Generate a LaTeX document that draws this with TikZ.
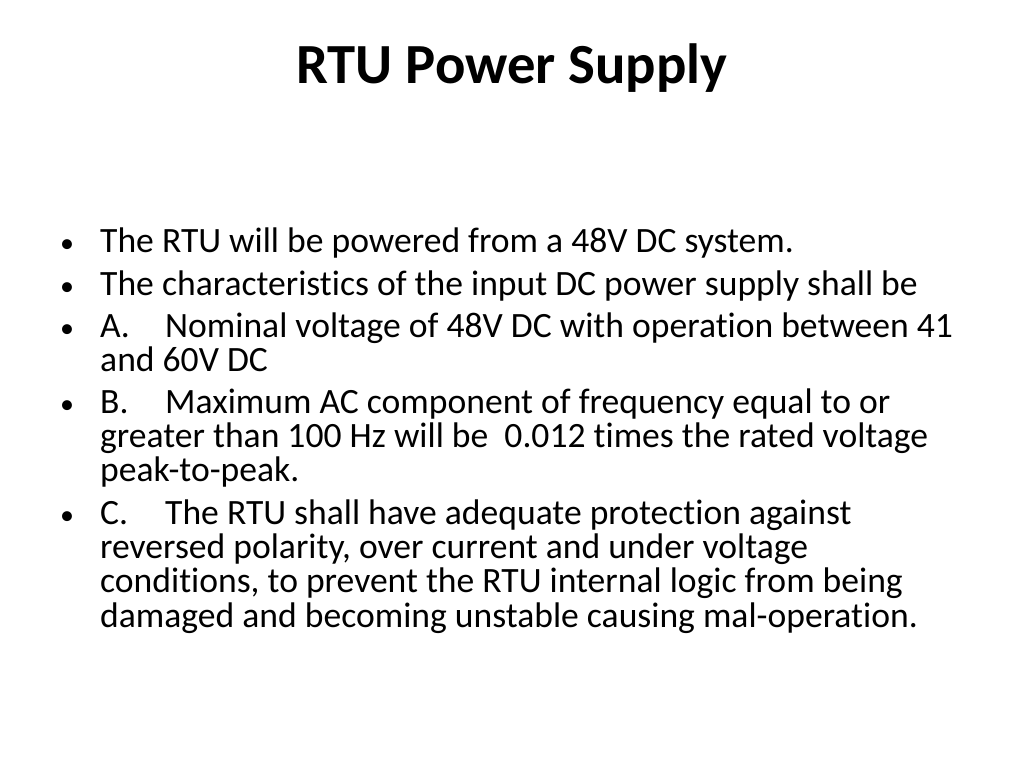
\documentclass[tikz,border=0pt]{standalone}
\usepackage{fontspec}
\setmainfont{Carlito}[Ligatures={NoCommon}]
\begin{document}
\begin{tikzpicture}[x=1pt,y=1pt,
  body/.style={anchor=base west,inner sep=0pt,font=\fontsize{35.6}{40}\selectfont},
  bul/.style={anchor=base west,inner sep=0pt,font=\fontsize{28}{34}\selectfont}]
\useasboundingbox[fill=white] (0,0) rectangle (1024,768);
\node[anchor=base,inner sep=0pt,font=\fontsize{56.7}{64}\selectfont\bfseries] (title) at (512,684) {RTU Power Supply};
% bullets
\foreach \n/\y in {b1/253,b2/296,b3/338,b4/414,b5/525}{
  \node[bul] (\n) at (60,768-\y) {•};}
\node[body] (l1) at (100,768-253) {The RTU will be powered from a 48V DC system.};
\node[body] (l2) at (100,768-296) {The characteristics of the input DC power supply shall be};
\node[body] (l3a) at (100,768-338) {A.};
\node[body] (l3) at (165,768-338) {Nominal voltage of 48V DC with operation between 41};
\node[body] (l4) at (100,768-372) {and 60V DC};
\node[body] (l5a) at (100,768-414) {B.};
\node[body] (l5) at (165,768-414) {Maximum AC component of frequency equal to or};
\node[body] (l6) at (100,768-448) {greater than 100 Hz will be\ \ 0.012 times the rated voltage};
\node[body] (l7) at (100,768-482) {peak-to-peak.};
\node[body] (l8a) at (100,768-525) {C.};
\node[body] (l8) at (165,768-525) {The RTU shall have adequate protection against};
\node[body] (l9) at (100,768-559) {reversed polarity, over current and under voltage};
\node[body] (l10) at (100,768-593) {conditions, to prevent the RTU internal logic from being};
\node[body] (l11) at (100,768-627) {damaged and becoming unstable causing mal-operation.};
\end{tikzpicture}
\end{document}
